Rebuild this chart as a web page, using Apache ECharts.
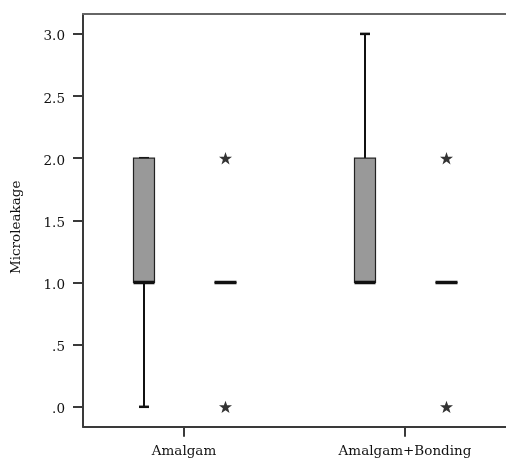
<!DOCTYPE html>
<html>
<head>
<meta charset="utf-8">
<script src="https://cdn.jsdelivr.net/npm/echarts@6/dist/echarts.min.js"></script>
<style>html,body{margin:0;padding:0;background:#fff}#c{width:506px;height:462px}</style>
</head>
<body>
<div id="c"></div>
<script>
// ---- data ----
const categories = ['Amalgam', 'Amalgam+Bonding'];
// [min, Q1, median, Q3, max] per category
const boxGrey = [[0, 1, 1, 2, 2], [1, 1, 1, 2, 3]];
const boxSecond = [[1, 1, 1, 1, 1], [1, 1, 1, 1, 1]];
// extreme outliers of second group: [categoryIndex, value]
const extremesSecond = [[0, 2], [0, 0], [1, 2], [1, 0]];
const yTickValues = [0, 0.5, 1, 1.5, 2, 2.5, 3];
const yTickLabels = ['.0', '.5', '1.0', '1.5', '2.0', '2.5', '3.0'];
const yTitle = 'Microleakage';

// ---- styling ----
const FONT = 'DejaVu Serif';
const frameColor = '#3a3a3a';

function starPath() {
  const pts = [];
  const R = 10, r = 4;
  for (let k = 0; k < 10; k++) {
    const a = (-90 + k * 36) * Math.PI / 180;
    const rad = k % 2 === 0 ? R : r;
    pts.push((rad * Math.cos(a)).toFixed(2) + ' ' + (rad * Math.sin(a)).toFixed(2));
  }
  return 'path://M' + pts.join(' L') + ' Z';
}

function boxSeries(name, data, offset, boxW, fill) {
  return {
    type: 'custom',
    name: name,
    xAxisIndex: 0,
    data: data.map((d, i) => [i].concat(d)),
    encode: { x: 0, y: [1, 2, 3, 4, 5] },
    renderItem: function (params, api) {
      const x = api.value(0);
      const v = [api.value(1), api.value(2), api.value(3), api.value(4), api.value(5)];
      const p = v.map(val => api.coord([x, val]));
      const cx = p[0][0] + offset;
      const yMin = p[0][1], yQ1 = p[1][1], yMed = p[2][1], yQ3 = p[3][1], yMax = p[4][1];
      const capW = 10;
      const children = [];
      const ls = { stroke: '#111', lineWidth: 2 };
      if (yMax !== yQ3) children.push({ type: 'line', shape: { x1: cx, y1: yQ3, x2: cx, y2: yMax }, style: ls });
      if (yMin !== yQ1) children.push({ type: 'line', shape: { x1: cx, y1: yQ1, x2: cx, y2: yMin }, style: ls });
      children.push({ type: 'line', shape: { x1: cx - capW / 2, y1: yMax, x2: cx + capW / 2, y2: yMax }, style: { stroke: '#111', lineWidth: 2.5 } });
      children.push({ type: 'line', shape: { x1: cx - capW / 2, y1: yMin, x2: cx + capW / 2, y2: yMin }, style: { stroke: '#111', lineWidth: 2.5 } });
      children.push({ type: 'rect', shape: { x: cx - boxW / 2, y: yQ3, width: boxW, height: yQ1 - yQ3 }, style: { fill: fill, stroke: '#222', lineWidth: 1.2 } });
      children.push({ type: 'line', shape: { x1: cx - boxW / 2, y1: yMed, x2: cx + boxW / 2, y2: yMed }, style: { stroke: '#111', lineWidth: 3.5 } });
      return { type: 'group', children: children };
    },
    z: 3
  };
}

const chart = echarts.init(document.getElementById('c'), null, { renderer: 'canvas' });
chart.setOption({
  animation: false,
  backgroundColor: '#fff',
  grid: { left: 83, right: 0, top: 14, bottom: 35.3 },
  xAxis: [{
    type: 'value',
    min: -0.457,
    max: 1.457,
    position: 'bottom',
    splitLine: { show: false },
    axisLine: { show: true, onZero: false, lineStyle: { color: frameColor, width: 2 } },
    axisTick: { show: true, customValues: [0, 1], length: 10, lineStyle: { color: frameColor, width: 2 } },
    axisLabel: {
      customValues: [0, 1],
      formatter: v => categories[Math.round(v)] || '',
      fontFamily: FONT, fontSize: 13.5, color: '#111', margin: 18
    }
  }, {
    type: 'value',
    min: -0.457,
    max: 1.457,
    position: 'top',
    splitLine: { show: false },
    axisLine: { show: true, onZero: false, lineStyle: { color: '#666', width: 2 } },
    axisTick: { show: false },
    axisLabel: { show: false }
  }],
  yAxis: {
    type: 'value',
    min: -0.16,
    max: 3.16,
    name: yTitle,
    nameLocation: 'middle',
    nameGap: 60,
    nameTextStyle: { fontFamily: FONT, fontSize: 13.5, color: '#111', padding: [0, 14, 0, 0] },
    splitLine: { show: false },
    axisLine: { show: true, onZero: false, lineStyle: { color: frameColor, width: 2 } },
    axisTick: { show: true, customValues: yTickValues, length: 10, lineStyle: { color: frameColor, width: 2 } },
    axisLabel: {
      customValues: yTickValues,
      formatter: v => { const i = yTickValues.findIndex(t => Math.abs(t - v) < 1e-6); return i >= 0 ? yTickLabels[i] : ''; },
      fontFamily: FONT, fontSize: 13.5, color: '#111', margin: 18,
      verticalAlign: 'top', lineHeight: 6
    }
  },
  series: [
    boxSeries('grey', boxGrey, -40, 21, '#999999'),
    boxSeries('second', boxSecond, 41.5, 22, '#999999'),
    {
      type: 'scatter',
      data: extremesSecond,
      symbol: starPath(),
      symbolKeepAspect: true,
      symbolSize: 13,
      symbolOffset: [41.5, 0],
      itemStyle: { color: '#000' },
      z: 4
    }
  ]
});
</script>
</body>
</html>
